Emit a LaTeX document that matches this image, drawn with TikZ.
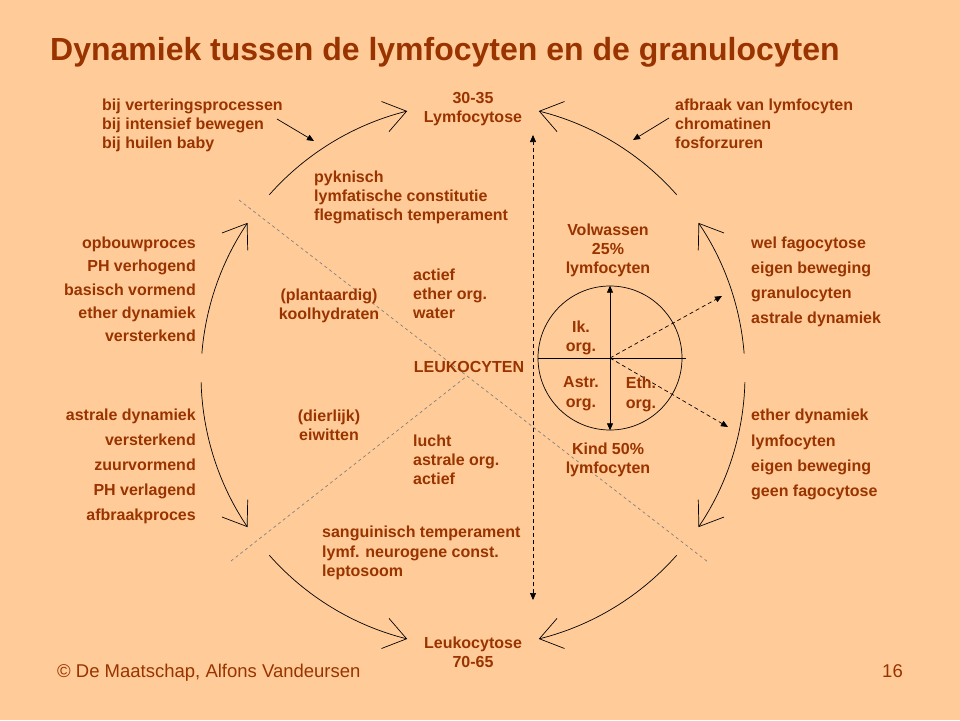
\documentclass[tikz,border=0pt]{standalone}
\usepackage{fontspec}
\setmainfont{Liberation Sans}
\usetikzlibrary{arrows.meta}
\definecolor{peach}{HTML}{FFCC99}
\definecolor{brick}{HTML}{993300}
\tikzset{
  txt/.style={text=brick, font=\bfseries\fontsize{16}{19}\selectfont, inner sep=0pt},
  turn/.style={line width=0.7pt, -{Straight Barb[length=22pt, width=31pt]}},
  hint/.style={line width=0.7pt, -{Triangle[length=7pt, width=6pt]}},
  split/.style={gray, line width=0.7pt, dash pattern=on 3pt off 3pt},
}

\begin{document}
\begin{tikzpicture}[x=1pt, y=-1pt]
    \fill [peach] (0,0) rectangle (960,720);
    \useasboundingbox (0,0) rectangle (960,720);
    \coordinate (c) at (473,375); % centre of the cycle

    \node [txt, anchor=base west, font=\bfseries\fontsize{32}{36}\selectfont] (title) at (50,60) {Dynamiek tussen de lymfocyten en de granulocyten};
    \node [txt, anchor=base west, font=\fontsize{18.5}{22}\selectfont] (copy) at (57,677) {\textcopyright{} De Maatschap, Alfons Vandeursen};
    \node [txt, anchor=base east, font=\fontsize{18.5}{22}\selectfont] (page) at (903,677) {16};

    % dividing lines
    \coordinate (x) at (467,376);
    \draw [split] (239,200) -- (x) -- (708,562);
    \draw [split] (231,561) -- (x);

    % the cycle
    \foreach \s/\e in {-138.5/-104, -41.5/-76, -175.5/-146, -4.5/-34, 178.5/146, 1.5/34, 138.5/104, 41.5/76}
        \draw [turn] ([shift={(\s:272)}]c) arc [start angle=\s, end angle=\e, radius=272];

    \node [txt, anchor=north, align=center] (lymf) at (473,92) {30-35\\Lymfocytose};
    \node [txt, anchor=north, align=center] (leuk) at (473,637) {Leukocytose\\70-65};
    \node [txt] (leukocyten) at (469,367) {LEUKOCYTEN};

    \node [txt, anchor=north west, align=left] (why) at (102,99) {bij verteringsprocessen\\bij intensief bewegen\\bij huilen baby};
    \node [txt, anchor=north west, align=left] (afbraak) at (675,99) {afbraak van lymfocyten\\chromatinen\\fosforzuren};
    \coordinate (why1) at (277,119);
    \coordinate (why2) at (314,141);
    \coordinate (afb1) at (669,118);
    \coordinate (afb2) at (633,140);
    \draw [hint] (why1) -- (why2);
    \draw [hint] (afb1) -- (afb2);

    \node [txt, anchor=north east, align=right, font=\bfseries\fontsize{16}{23.2}\selectfont] (opbouw) at (196,237) {opbouwproces\\PH verhogend\\basisch vormend\\ether dynamiek\\versterkend};
    \node [txt, anchor=north east, align=right, font=\bfseries\fontsize{16}{25}\selectfont] (afbraakp) at (196,409) {astrale dynamiek\\versterkend\\zuurvormend\\PH verlagend\\afbraakproces};
    \node [txt, anchor=north west, align=left, font=\bfseries\fontsize{16}{25}\selectfont] (wel) at (751,237) {wel fagocytose\\eigen beweging\\granulocyten\\astrale dynamiek};
    \node [txt, anchor=north west, align=left, font=\bfseries\fontsize{16}{25.3}\selectfont] (geen) at (751,409) {ether dynamiek\\lymfocyten\\eigen beweging\\geen fagocytose};

    \node [txt, anchor=north west, align=left] (pyk) at (314,171) {pyknisch\\lymfatische constitutie\\flegmatisch temperament};
    \node [txt, anchor=north west, align=left] (ether) at (413,269) {actief\\ether org.\\water};
    \node [txt, anchor=north, align=center, font=\bfseries\fontsize{16}{18.5}\selectfont] (plant) at (329,289) {(plantaardig)\\koolhydraten};
    \node [txt, anchor=north, align=center, font=\bfseries\fontsize{16}{18.5}\selectfont] (dier) at (329,410) {(dierlijk)\\eiwitten};
    \node [txt, anchor=north west, align=left] (lucht) at (413,435) {lucht\\astrale org.\\actief};
    \node [txt, anchor=north west, align=left, font=\bfseries\fontsize{16}{19.5}\selectfont] (sang) at (322,526) {sanguinisch temperament\\lymf. neurogene const.\\leptosoom};

    % age axis
    \coordinate (vt) at (533,135);
    \coordinate (vb) at (533,600);
    \draw [line width=0.7pt, dash pattern=on 4pt off 3pt, {Triangle[length=7pt, width=6pt]}-{Triangle[length=7pt, width=6pt]}] (vb) -- (vt);

    % small circle
    \node [draw, circle, line width=0.7pt, minimum size=144pt, inner sep=0pt] (org) at (610,358) {};
    \draw [line width=0.7pt, {Triangle[length=7pt, width=6pt]}-{Triangle[length=7pt, width=6pt]}] (org.north) -- (org.south);
    \draw [line width=0.7pt] (org.west) -- ([xshift=4pt]org.east);
    \coordinate (gran) at (722,296);
    \coordinate (lymfo) at (728,427);
    \draw [hint, dash pattern=on 4pt off 3pt] (org.center) -- (gran);
    \draw [hint, dash pattern=on 4pt off 3pt] (org.center) -- (lymfo);

    \node [txt, anchor=north, align=center] (volw) at (608,224) {Volwassen\\25\%\\lymfocyten};
    \node [txt, anchor=north, align=center] (kind) at (608,443) {Kind 50\%\\lymfocyten};
    \node [txt, anchor=north, align=center, font=\bfseries\fontsize{16}{18.5}\selectfont] (ik) at (581,321) {Ik.\\org.};
    \node [txt, anchor=north, align=center, font=\bfseries\fontsize{16}{20}\selectfont] (astr) at (581,376) {Astr.\\org.};
    \node [txt, anchor=north, align=center, font=\bfseries\fontsize{16}{20}\selectfont] (eth) at (641,377) {Eth.\\org.};
\end{tikzpicture}
\end{document}
